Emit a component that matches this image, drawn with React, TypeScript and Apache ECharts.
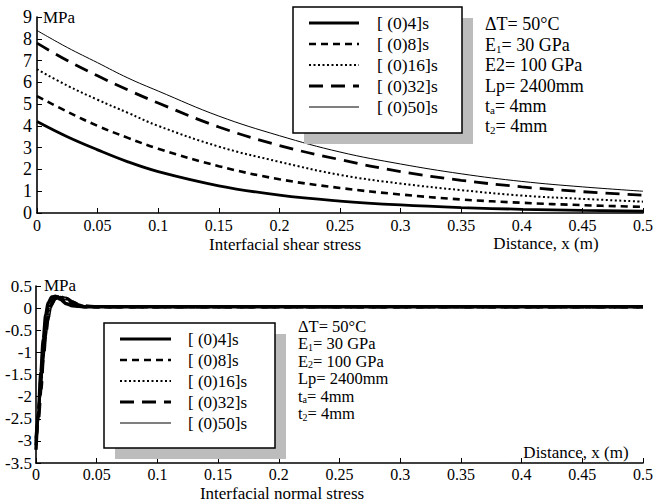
import React, { useEffect, useRef } from "react";
import * as echarts from "echarts";

const SERIES_NAMES = ["[ (0)4]s", "[ (0)8]s", "[ (0)16]s", "[ (0)32]s", "[ (0)50]s"];

// Interfacial shear stress (MPa) vs distance x (m)
const X_SHEAR = [0, 0.025, 0.05, 0.075, 0.1, 0.15, 0.2, 0.25, 0.3, 0.35, 0.4, 0.45, 0.5];
const SHEAR_4 = [4.2, 3.5, 2.9, 2.35, 1.9, 1.25, 0.82, 0.55, 0.37, 0.25, 0.17, 0.12, 0.08];
const SHEAR_8 = [5.37, 4.65, 4.0, 3.45, 2.95, 2.15, 1.55, 1.15, 0.85, 0.62, 0.47, 0.36, 0.28];
const SHEAR_16 = [6.6, 5.85, 5.2, 4.6, 4.0, 3.05, 2.35, 1.75, 1.35, 1.05, 0.8, 0.65, 0.52];
const SHEAR_32 = [7.8, 7.0, 6.3, 5.65, 5.05, 3.95, 3.1, 2.45, 1.9, 1.5, 1.2, 0.98, 0.82];
const SHEAR_50 = [8.38, 7.6, 6.9, 6.2, 5.6, 4.45, 3.55, 2.8, 2.25, 1.8, 1.45, 1.2, 1.0];

// Interfacial normal stress (MPa) vs distance x (m)
const X_NORMAL = [0, 0.002, 0.004, 0.006, 0.008, 0.01, 0.013, 0.016, 0.02, 0.025, 0.03, 0.035, 0.04, 0.05, 0.1, 0.2, 0.3, 0.4, 0.5];
const NORMAL_4 = [-3.2, -2.3, -1.45, -0.7, -0.15, 0.12, 0.25, 0.27, 0.2, 0.1, 0.05, 0.04, 0.03, 0.03, 0.03, 0.03, 0.03, 0.03, 0.03];
const NORMAL_8 = [-3.1, -2.4, -1.6, -0.9, -0.35, 0.0, 0.2, 0.27, 0.24, 0.15, 0.08, 0.05, 0.03, 0.03, 0.03, 0.03, 0.03, 0.03, 0.03];
const NORMAL_16 = [-3.0, -2.45, -1.75, -1.05, -0.5, -0.1, 0.15, 0.25, 0.27, 0.2, 0.12, 0.06, 0.04, 0.03, 0.03, 0.03, 0.03, 0.03, 0.03];
const NORMAL_32 = [-2.95, -2.5, -1.85, -1.15, -0.6, -0.2, 0.1, 0.22, 0.27, 0.22, 0.14, 0.08, 0.05, 0.03, 0.03, 0.03, 0.03, 0.03, 0.03];
const NORMAL_50 = [-2.9, -2.5, -1.9, -1.25, -0.7, -0.3, 0.05, 0.2, 0.26, 0.24, 0.16, 0.09, 0.05, 0.03, 0.03, 0.03, 0.03, 0.03, 0.03];

const SHEAR_SETS = [SHEAR_4, SHEAR_8, SHEAR_16, SHEAR_32, SHEAR_50];
const NORMAL_SETS = [NORMAL_4, NORMAL_8, NORMAL_16, NORMAL_32, NORMAL_50];

const FONT = "Liberation Serif";

const LINE_STYLES = [
  { width: 2.8, type: "solid" as any },
  { width: 2.6, type: [7, 5] as any },
  { width: 2, type: [2, 2.5] as any },
  { width: 2.8, type: [14, 8] as any },
  { width: 1, type: "solid" as any },
];

function fmt(v: number) {
  return String(Math.round(v * 100) / 100);
}

function legendGraphics(x0: number, y0: number, w: number, h: number, rowTop: number, rowGap: number, lineX0: number, lineX1: number, textX: number, fs: number) {
  const els: any[] = [];
  els.push({
    type: "rect",
    shape: { x: x0 + 11, y: y0 + 11, width: w, height: h },
    style: { fill: "#bcbcbc" },
    z: 100,
  });
  els.push({
    type: "rect",
    shape: { x: x0, y: y0, width: w, height: h },
    style: { fill: "#fff", stroke: "#000", lineWidth: 1.5 },
    z: 101,
  });
  SERIES_NAMES.forEach((name, i) => {
    const y = rowTop + i * rowGap;
    const ls = LINE_STYLES[i];
    els.push({
      type: "line",
      shape: { x1: lineX0, y1: y, x2: lineX1, y2: y },
      style: {
        stroke: "#000",
        lineWidth: ls.width,
        lineDash: Array.isArray(ls.type) ? ls.type : null,
      },
      z: 102,
    });
    els.push({
      type: "text",
      x: textX,
      y: y,
      style: { text: name, fontFamily: FONT, fontSize: fs, lineHeight: fs + 1, fill: "#000", verticalAlign: "middle" },
      z: 102,
    });
  });
  return els;
}

function makeRich(fs: number) {
  return {
    n: { fontFamily: FONT, fontSize: fs, lineHeight: Math.round(fs), color: "#000" },
    s: { fontFamily: FONT, fontSize: Math.round(fs * 0.62), lineHeight: Math.round(fs * 0.62), verticalAlign: "bottom", color: "#000" },
  };
}

function annot(x: number, y: number, text: string, fs: number) {
  return {
    type: "text",
    x,
    y,
    style: { text, rich: makeRich(fs), fontFamily: FONT, fontSize: fs, fill: "#000", verticalAlign: "middle" },
    z: 102,
  };
}

function plainText(x: number, y: number, text: string, align: string = "left", size = 17) {
  return {
    type: "text",
    x,
    y,
    style: { text, fontFamily: FONT, fontSize: size, fill: "#000", align, verticalAlign: "middle" },
    z: 102,
  };
}

export default function App() {
  const ref = useRef<HTMLDivElement>(null);
  useEffect(() => {
    if (!ref.current) return;
    const chart = echarts.init(ref.current, undefined, { renderer: "svg" });

    const axisCommon = {
      axisLine: { lineStyle: { color: "#000", width: 1.6 } },
      axisTick: { inside: true, length: 5, lineStyle: { color: "#000", width: 1 } },
      axisLabel: { color: "#000", fontFamily: FONT, fontSize: 16 },
      splitLine: { show: false },
    };

    const series: any[] = [];
    SHEAR_SETS.forEach((vals, i) => {
      series.push({
        type: "line",
        name: SERIES_NAMES[i],
        xAxisIndex: 0,
        yAxisIndex: 0,
        data: X_SHEAR.map((x, k) => [x, vals[k]]),
        showSymbol: false,
        symbol: "none",
        smooth: 0.4,
        lineStyle: { color: "#000", width: LINE_STYLES[i].width, type: LINE_STYLES[i].type, cap: "butt" },
      });
    });
    NORMAL_SETS.forEach((vals, i) => {
      series.push({
        type: "line",
        name: SERIES_NAMES[i],
        xAxisIndex: 1,
        yAxisIndex: 1,
        data: X_NORMAL.map((x, k) => [x, vals[k]]),
        showSymbol: false,
        symbol: "none",
        smooth: 0.3,
        smoothMonotone: "x",
        lineStyle: { color: "#000", width: LINE_STYLES[i].width + 0.6, type: LINE_STYLES[i].type, cap: "butt" },
      });
    });

    const TOP_FS = 18;
    const BOT_FS = 16.5;
    const graphic: any[] = [
      ...legendGraphics(293, 7, 169, 126, 23, 21, 309, 359, 377, 17.5),
      annot(485, 24, "{n|ΔT= 50°C}", TOP_FS),
      annot(485, 45, "{n|E}{s|1}{n|= 30 GPa}", TOP_FS),
      annot(485, 65, "{n|E2= 100 GPa}", TOP_FS),
      annot(485, 86, "{n|Lp= 2400mm}", TOP_FS),
      annot(485, 106, "{n|t}{s|a}{n|= 4mm}", TOP_FS),
      annot(485, 126, "{n|t}{s|2}{n|= 4mm}", TOP_FS),
      plainText(43, 17, "MPa", "left", 17),
      plainText(285, 244, "Interfacial shear stress", "center", 17),
      plainText(546, 243, "Distance, x (m)", "center", 17),
      ...legendGraphics(104, 323, 171, 125, 339, 21, 120, 171, 188, 17),
      annot(298, 326, "{n|ΔT= 50°C}", BOT_FS),
      annot(298, 343.5, "{n|E}{s|1}{n|= 30 GPa}", BOT_FS),
      annot(298, 361, "{n|E}{s|2}{n|= 100 GPa}", BOT_FS),
      annot(298, 378.5, "{n|Lp= 2400mm}", BOT_FS),
      annot(298, 396, "{n|t}{s|a}{n|= 4mm}", BOT_FS),
      annot(298, 413.5, "{n|t}{s|2}{n|= 4mm}", BOT_FS),
      plainText(44, 285, "MPa", "left", 17),
      plainText(282, 493, "Interfacial normal stress", "center", 17),
      plainText(576, 452, "Distance, x (m)", "center", 17),
    ];

    chart.setOption({
      animation: false,
      backgroundColor: "#fff",
      grid: [
        { left: 37, top: 17, width: 608, height: 196 },
        { left: 36, top: 286, width: 609, height: 177 },
      ],
      xAxis: [
        {
          type: "value", gridIndex: 0, min: 0, max: 0.5, interval: 0.05,
          ...axisCommon,
          axisLabel: { ...axisCommon.axisLabel, margin: 4, formatter: fmt },
        },
        {
          type: "value", gridIndex: 1, min: 0, max: 0.5, interval: 0.05,
          ...axisCommon,
          axisLine: { onZero: false, lineStyle: { color: "#000", width: 1.6 } },
          axisLabel: { ...axisCommon.axisLabel, margin: 3, formatter: fmt },
        },
      ],
      yAxis: [
        {
          type: "value", gridIndex: 0, min: 0, max: 9, interval: 1,
          ...axisCommon,
          axisLabel: { ...axisCommon.axisLabel, margin: 5, fontSize: 18 },
        },
        {
          type: "value", gridIndex: 1, min: -3.5, max: 0.5, interval: 0.5,
          ...axisCommon,
          axisLine: { onZero: false, lineStyle: { color: "#000", width: 1.6 } },
          axisLabel: { ...axisCommon.axisLabel, margin: 4, fontSize: 17, formatter: fmt },
        },
      ],
      series,
      graphic,
    });
    return () => chart.dispose();
  }, []);
  return <div ref={ref} style={{ position: "fixed", left: 0, top: 0, width: 656, height: 503 }} />;
}
